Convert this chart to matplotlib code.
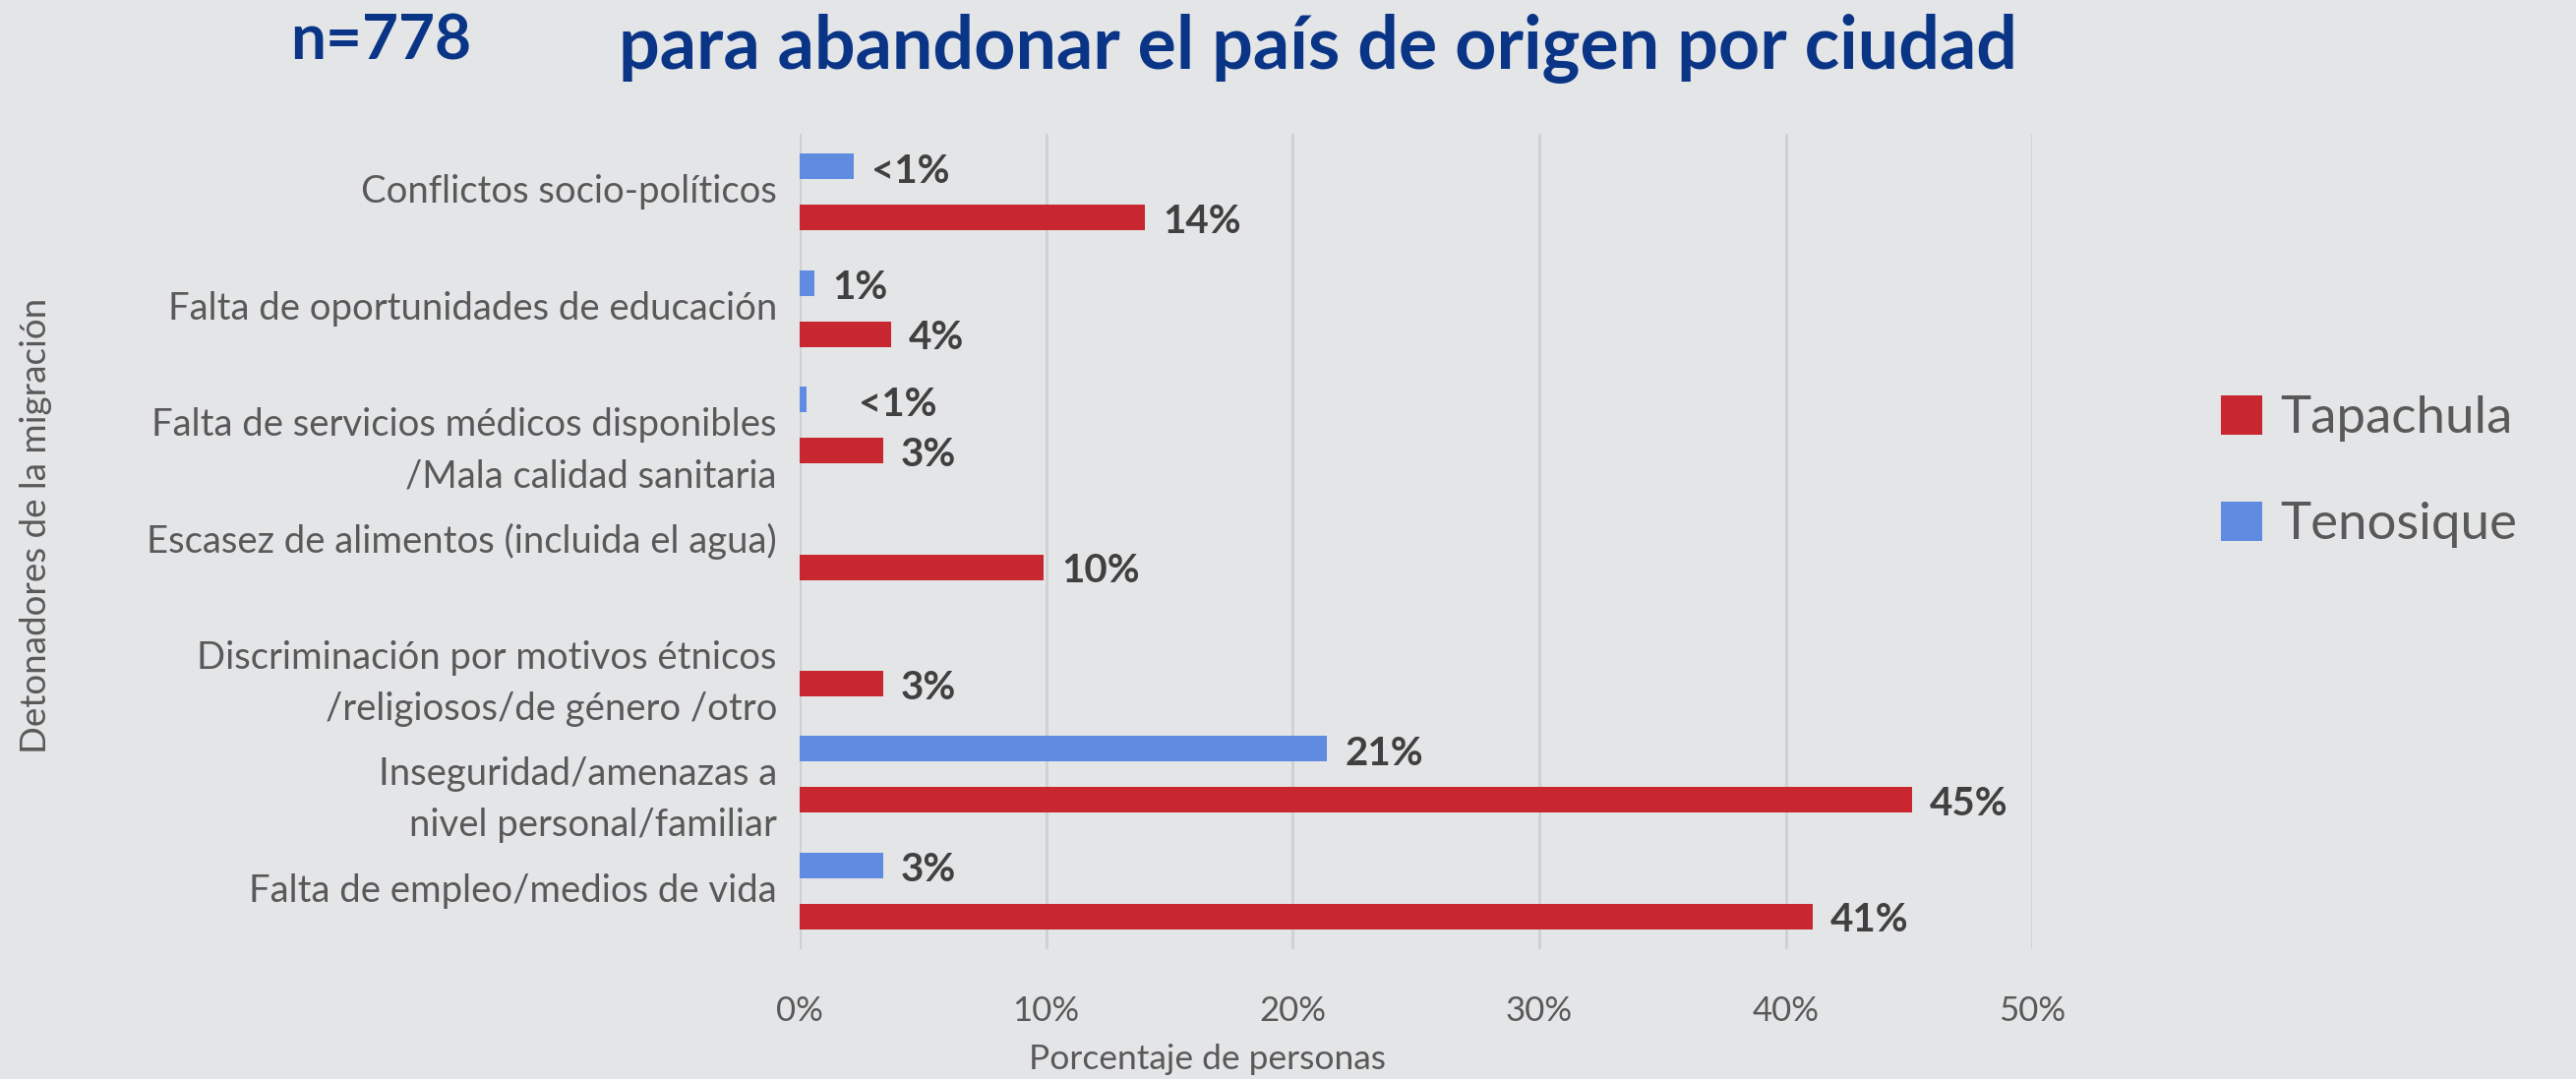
import matplotlib.pyplot as plt
from matplotlib.transforms import offset_copy

# categorias, de arriba hacia abajo
categorias = [
    "Conflictos socio-políticos",
    "Falta de oportunidades de educación",
    "Falta de servicios médicos disponibles\n/Mala calidad sanitaria",
    "Escasez de alimentos (incluida el agua)",
    "Discriminación por motivos étnicos\n/religiosos/de género /otro",
    "Inseguridad/amenazas a\nnivel personal/familiar",
    "Falta de empleo/medios de vida",
]
tapachula = [14.0, 3.7, 3.4, 9.9, 3.4, 45.1, 41.1]
tenosique = [2.2, 0.6, 0.3, 0.0, 0.0, 21.4, 3.4]
etiquetas_tap = ["14%", "4%", "3%", "10%", "3%", "45%", "41%"]
etiquetas_ten = ["<1%", "1%", "<1%", "", "", "21%", "3%"]
ticks_x = [0, 10, 20, 30, 40, 50]

FONDO = "#E4E5E7"
ROJO = "#C8272F"
AZUL = "#5F8BE0"
GRIS = "#595959"
FUENTE = "Lato"

fig = plt.figure(figsize=(26.19, 10.97), dpi=100, facecolor=FONDO)
ax = fig.add_axes([0.3104, 0.1203, 0.789 - 0.3104, 0.876 - 0.1203], facecolor=FONDO)

n = len(categorias)
pos = [n - 1 - i for i in range(n)]
alto = 0.22
off = 0.22

ax.barh([p - off for p in pos], tapachula, height=alto, color=ROJO, label="Tapachula")
ax.barh([p + off for p in pos], tenosique, height=alto, color=AZUL, label="Tenosique")

# etiquetas de datos
extra = {2: 35}  # el "<1%" de servicios medicos va mas a la derecha
for i, p in enumerate(pos):
    t = offset_copy(ax.transData, fig=fig, x=18, y=-4, units="dots")
    ax.text(tapachula[i], p - off, etiquetas_tap[i], transform=t, ha="left", va="center",
            fontsize=29, fontweight="bold", color="#404040", family=FUENTE)
    if etiquetas_ten[i]:
        t2 = offset_copy(ax.transData, fig=fig, x=18 + extra.get(i, 0), y=-5, units="dots")
        ax.text(tenosique[i], p + off, etiquetas_ten[i], transform=t2, ha="left", va="center",
                fontsize=29, fontweight="bold", color="#404040", family=FUENTE)

ax.set_xlim(0, 50)
ax.set_ylim(-0.5, n - 0.5)
ax.set_xticks(ticks_x)
ax.set_xticklabels([f"{v}%" for v in ticks_x], fontsize=25, color=GRIS, family=FUENTE)
ax.tick_params(axis="x", length=0, pad=34)
ax.set_yticks(pos)
ax.set_yticklabels([])
ax.tick_params(axis="y", length=0)
ax.grid(axis="x", color="#CFD0D2", linewidth=2)
ax.set_axisbelow(True)
for s in ax.spines.values():
    s.set_visible(False)
ax.axvline(0, color="#C8C9CB", linewidth=2, zorder=0.5)

# etiquetas del eje y: primera linea centrada en la categoria
for cat, p in zip(categorias, pos):
    for k, linea in enumerate(cat.split("\n")):
        t = offset_copy(ax.get_yaxis_transform(), fig=fig, x=-23, y=-52 * k, units="dots")
        ax.text(0, p, linea, transform=t, ha="right", va="center", fontsize=27.5,
                color=GRIS, family=FUENTE)

fig.text(0.014, 0.513, "Detonadores de la migración", rotation=90, ha="center", va="center",
         fontsize=26.5, color=GRIS, family=FUENTE)
fig.text(0.4685, 0.018, "Porcentaje de personas", ha="center", va="center",
         fontsize=25.5, color=GRIS, family=FUENTE)

fig.text(0.148, 0.962, "n=778", ha="center", va="center", fontsize=46, fontweight="bold",
         color="#0A3587", family=FUENTE)
fig.text(0.5115, 0.955, "para abandonar el país de origen por ciudad", ha="center", va="center",
         fontsize=53, fontweight="bold", color="#0A3587", family=FUENTE)

leg = ax.legend(loc="center left", bbox_to_anchor=(0.862, 0.563), bbox_transform=fig.transFigure,
                frameon=False, prop={"family": FUENTE, "size": 38}, labelcolor=GRIS,
                borderpad=0, borderaxespad=0,
                handlelength=0.8, handleheight=0.8, labelspacing=1.15, handletextpad=0.35)

fig.savefig("out.png", dpi=100, facecolor=FONDO)
